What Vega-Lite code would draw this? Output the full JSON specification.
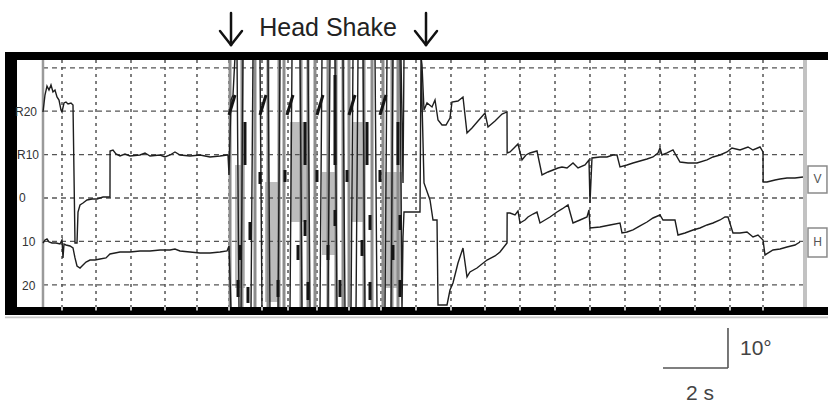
{
  "$schema": "https://vega.github.io/schema/vega-lite/v6.json",
  "width": 828,
  "height": 405,
  "autosize": {"type": "none"},
  "padding": 0,
  "background": "white",
  "config": {"view": {"stroke": null}, "font": "Liberation Sans"},
  "datasets": {
    "vgrid": [
      {"t": 1.797}, {"t": 2.783}, {"t": 3.797}, {"t": 4.783}, {"t": 5.71}, {"t": 6.638}, {"t": 7.594}, {"t": 8.348},
      {"t": 9.188}, {"t": 10.116}, {"t": 11.043}, {"t": 12.058}, {"t": 13.072}, {"t": 14.058}, {"t": 15.072},
      {"t": 16.087}, {"t": 17.101}, {"t": 18.116}, {"t": 19.13}, {"t": 20.145}, {"t": 21.159}, {"t": 22.116}
    ],
    "hgrid": [{"deg": 30}, {"deg": 20}, {"deg": 10}, {"deg": 0}, {"deg": -10}, {"deg": -20}],
    "streaks": [
      {"t": 6.667}, {"t": 7.014}, {"t": 7.391}, {"t": 7.768}, {"t": 8.087}, {"t": 8.232}, {"t": 8.725}, {"t": 8.928},
      {"t": 9.13}, {"t": 9.507}, {"t": 9.739}, {"t": 9.942}, {"t": 10.116}, {"t": 10.551}, {"t": 10.783}, {"t": 11.101},
      {"t": 11.362}, {"t": 11.536}
    ],
    "traces": [
      {"trace": "V", "t": 1.246, "deg": 19.82}, {"trace": "V", "t": 1.304, "deg": 23.73}, {"trace": "V", "t": 1.362, "deg": 25.81},
      {"trace": "V", "t": 1.42, "deg": 24.88}, {"trace": "V", "t": 1.478, "deg": 26.04}, {"trace": "V", "t": 1.536, "deg": 24.42},
      {"trace": "V", "t": 1.594, "deg": 24.88}, {"trace": "V", "t": 1.652, "deg": 23.27}, {"trace": "V", "t": 1.71, "deg": 22.58},
      {"trace": "V", "t": 1.768, "deg": 20.28}, {"trace": "V", "t": 1.797, "deg": 19.82}, {"trace": "V", "t": 1.855, "deg": 21.89},
      {"trace": "V", "t": 1.913, "deg": 22.12}, {"trace": "V", "t": 1.971, "deg": 21.66}, {"trace": "V", "t": 2.058, "deg": 21.89},
      {"trace": "V", "t": 2.116, "deg": 21.43}, {"trace": "V", "t": 2.174, "deg": -10.37}, {"trace": "V", "t": 2.232, "deg": -10.37},
      {"trace": "V", "t": 2.261, "deg": -3.23}, {"trace": "V", "t": 2.319, "deg": -1.61}, {"trace": "V", "t": 2.406, "deg": -1.15},
      {"trace": "V", "t": 2.522, "deg": -0.46}, {"trace": "V", "t": 2.667, "deg": -0.23}, {"trace": "V", "t": 2.812, "deg": -0.23},
      {"trace": "V", "t": 2.986, "deg": 0.23}, {"trace": "V", "t": 3.188, "deg": 0.23}, {"trace": "V", "t": 3.19, "deg": 10.83},
      {"trace": "V", "t": 3.275, "deg": 11.06}, {"trace": "V", "t": 3.362, "deg": 10.14}, {"trace": "V", "t": 3.478, "deg": 9.68},
      {"trace": "V", "t": 3.623, "deg": 10.14}, {"trace": "V", "t": 3.768, "deg": 9.68}, {"trace": "V", "t": 4.058, "deg": 9.91},
      {"trace": "V", "t": 4.203, "deg": 10.37}, {"trace": "V", "t": 4.348, "deg": 9.68}, {"trace": "V", "t": 4.638, "deg": 9.91},
      {"trace": "V", "t": 4.783, "deg": 9.45}, {"trace": "V", "t": 4.928, "deg": 9.91}, {"trace": "V", "t": 5.072, "deg": 10.6},
      {"trace": "V", "t": 5.217, "deg": 9.91}, {"trace": "V", "t": 5.507, "deg": 9.68}, {"trace": "V", "t": 5.797, "deg": 9.91},
      {"trace": "V", "t": 6.087, "deg": 9.45}, {"trace": "V", "t": 6.377, "deg": 9.68}, {"trace": "V", "t": 6.58, "deg": 9.91},
      {"trace": "V", "t": 6.609, "deg": 9.91}, {"trace": "V", "t": 6.638, "deg": 5.3}, {"trace": "V", "t": 6.696, "deg": 22.58},
      {"trace": "V", "t": 6.754, "deg": 23.73}, {"trace": "V", "t": 6.812, "deg": 32.6}, {"trace": "V", "t": 6.87, "deg": 32.6},
      {"trace": "V", "t": 6.928, "deg": -26.0}, {"trace": "V", "t": 7.275, "deg": -26.0}, {"trace": "V", "t": 7.333, "deg": 32.6},
      {"trace": "V", "t": 7.768, "deg": 32.6}, {"trace": "V", "t": 7.826, "deg": -26.0}, {"trace": "V", "t": 8.406, "deg": -26.0},
      {"trace": "V", "t": 8.464, "deg": 32.6}, {"trace": "V", "t": 8.928, "deg": 32.6}, {"trace": "V", "t": 8.986, "deg": -26.0},
      {"trace": "V", "t": 9.507, "deg": -26.0}, {"trace": "V", "t": 9.565, "deg": 32.6}, {"trace": "V", "t": 9.942, "deg": 32.6},
      {"trace": "V", "t": 10.0, "deg": -26.0}, {"trace": "V", "t": 10.319, "deg": -26.0}, {"trace": "V", "t": 10.377, "deg": 32.6},
      {"trace": "V", "t": 10.87, "deg": 32.6}, {"trace": "V", "t": 10.928, "deg": -26.0}, {"trace": "V", "t": 11.333, "deg": -26.0},
      {"trace": "V", "t": 11.391, "deg": 32.6}, {"trace": "V", "t": 11.623, "deg": 32.6}, {"trace": "V", "t": 11.681, "deg": 3.46},
      {"trace": "V", "t": 11.71, "deg": 32.6}, {"trace": "V", "t": 12.203, "deg": 32.6}, {"trace": "V", "t": 12.232, "deg": 30.65},
      {"trace": "V", "t": 12.29, "deg": 20.28},
      {"trace": "V", "t": 12.377, "deg": 21.89}, {"trace": "V", "t": 12.522, "deg": 20.97}, {"trace": "V", "t": 12.609, "deg": 22.58},
      {"trace": "V", "t": 12.696, "deg": 17.97}, {"trace": "V", "t": 12.812, "deg": 16.82}, {"trace": "V", "t": 12.928, "deg": 16.82},
      {"trace": "V", "t": 13.043, "deg": 18.43}, {"trace": "V", "t": 13.101, "deg": 22.12}, {"trace": "V", "t": 13.275, "deg": 22.35},
      {"trace": "V", "t": 13.42, "deg": 23.27}, {"trace": "V", "t": 13.536, "deg": 14.98}, {"trace": "V", "t": 13.681, "deg": 16.13},
      {"trace": "V", "t": 13.855, "deg": 17.74}, {"trace": "V", "t": 14.058, "deg": 19.59}, {"trace": "V", "t": 14.145, "deg": 16.36},
      {"trace": "V", "t": 14.348, "deg": 17.74}, {"trace": "V", "t": 14.551, "deg": 19.35}, {"trace": "V", "t": 14.696, "deg": 19.82},
      {"trace": "V", "t": 14.7, "deg": 10.37}, {"trace": "V", "t": 14.783, "deg": 10.6}, {"trace": "V", "t": 14.899, "deg": 11.52},
      {"trace": "V", "t": 15.014, "deg": 12.44}, {"trace": "V", "t": 15.13, "deg": 8.76}, {"trace": "V", "t": 15.246, "deg": 9.91},
      {"trace": "V", "t": 15.362, "deg": 10.37}, {"trace": "V", "t": 15.565, "deg": 10.83}, {"trace": "V", "t": 15.71, "deg": 5.3},
      {"trace": "V", "t": 15.884, "deg": 5.99}, {"trace": "V", "t": 16.029, "deg": 6.45}, {"trace": "V", "t": 16.174, "deg": 6.91},
      {"trace": "V", "t": 16.29, "deg": 7.14}, {"trace": "V", "t": 16.435, "deg": 6.91}, {"trace": "V", "t": 16.609, "deg": 8.06},
      {"trace": "V", "t": 16.754, "deg": 6.91}, {"trace": "V", "t": 16.957, "deg": 7.6}, {"trace": "V", "t": 17.072, "deg": 8.76},
      {"trace": "V", "t": 17.101, "deg": -1.15}, {"trace": "V", "t": 17.159, "deg": 9.22}, {"trace": "V", "t": 17.391, "deg": 9.45},
      {"trace": "V", "t": 17.594, "deg": 9.45}, {"trace": "V", "t": 17.768, "deg": 9.91}, {"trace": "V", "t": 17.884, "deg": 9.91},
      {"trace": "V", "t": 17.971, "deg": 7.14}, {"trace": "V", "t": 18.174, "deg": 7.6}, {"trace": "V", "t": 18.348, "deg": 8.06},
      {"trace": "V", "t": 18.551, "deg": 8.53}, {"trace": "V", "t": 18.754, "deg": 8.99}, {"trace": "V", "t": 18.928, "deg": 9.45},
      {"trace": "V", "t": 19.072, "deg": 10.37}, {"trace": "V", "t": 19.13, "deg": 11.52}, {"trace": "V", "t": 19.188, "deg": 9.91},
      {"trace": "V", "t": 19.333, "deg": 10.37}, {"trace": "V", "t": 19.507, "deg": 11.06}, {"trace": "V", "t": 19.71, "deg": 8.29},
      {"trace": "V", "t": 19.942, "deg": 8.06}, {"trace": "V", "t": 20.203, "deg": 8.06}, {"trace": "V", "t": 20.493, "deg": 8.76},
      {"trace": "V", "t": 20.667, "deg": 9.45}, {"trace": "V", "t": 20.87, "deg": 9.91}, {"trace": "V", "t": 21.072, "deg": 10.6},
      {"trace": "V", "t": 21.217, "deg": 11.52}, {"trace": "V", "t": 21.449, "deg": 11.06}, {"trace": "V", "t": 21.681, "deg": 11.75},
      {"trace": "V", "t": 21.826, "deg": 11.06}, {"trace": "V", "t": 22.029, "deg": 11.75}, {"trace": "V", "t": 22.116, "deg": 10.6},
      {"trace": "V", "t": 22.12, "deg": 3.69}, {"trace": "V", "t": 22.232, "deg": 3.69}, {"trace": "V", "t": 22.464, "deg": 4.15},
      {"trace": "V", "t": 22.609, "deg": 4.38}, {"trace": "V", "t": 22.812, "deg": 4.61}, {"trace": "V", "t": 23.043, "deg": 4.61},
      {"trace": "V", "t": 23.275, "deg": 4.84},
      {"trace": "H", "t": 1.246, "deg": -10.37}, {"trace": "H", "t": 1.304, "deg": -9.68}, {"trace": "H", "t": 1.362, "deg": -9.45},
      {"trace": "H", "t": 1.42, "deg": -10.14}, {"trace": "H", "t": 1.507, "deg": -10.37}, {"trace": "H", "t": 1.623, "deg": -10.37},
      {"trace": "H", "t": 1.739, "deg": -10.6}, {"trace": "H", "t": 1.797, "deg": -9.68}, {"trace": "H", "t": 1.826, "deg": -13.82},
      {"trace": "H", "t": 1.855, "deg": -10.6}, {"trace": "H", "t": 1.913, "deg": -10.83}, {"trace": "H", "t": 2.029, "deg": -11.06},
      {"trace": "H", "t": 2.116, "deg": -11.52}, {"trace": "H", "t": 2.174, "deg": -13.82}, {"trace": "H", "t": 2.232, "deg": -15.67},
      {"trace": "H", "t": 2.319, "deg": -16.13}, {"trace": "H", "t": 2.406, "deg": -15.44}, {"trace": "H", "t": 2.493, "deg": -14.75},
      {"trace": "H", "t": 2.609, "deg": -14.29}, {"trace": "H", "t": 2.754, "deg": -14.29}, {"trace": "H", "t": 2.899, "deg": -14.06},
      {"trace": "H", "t": 3.072, "deg": -13.82}, {"trace": "H", "t": 3.188, "deg": -12.9}, {"trace": "H", "t": 3.333, "deg": -12.67},
      {"trace": "H", "t": 3.478, "deg": -12.44}, {"trace": "H", "t": 3.768, "deg": -12.44}, {"trace": "H", "t": 4.058, "deg": -12.21},
      {"trace": "H", "t": 4.348, "deg": -12.21}, {"trace": "H", "t": 4.638, "deg": -11.98}, {"trace": "H", "t": 4.928, "deg": -11.98},
      {"trace": "H", "t": 5.072, "deg": -11.75}, {"trace": "H", "t": 5.217, "deg": -12.21}, {"trace": "H", "t": 5.507, "deg": -12.44},
      {"trace": "H", "t": 5.797, "deg": -12.67}, {"trace": "H", "t": 6.087, "deg": -12.67}, {"trace": "H", "t": 6.377, "deg": -12.44},
      {"trace": "H", "t": 6.58, "deg": -12.21}, {"trace": "H", "t": 6.638, "deg": -11.06}, {"trace": "H", "t": 6.696, "deg": -26.0},
      {"trace": "H", "t": 6.986, "deg": -26.0}, {"trace": "H", "t": 7.043, "deg": 32.6}, {"trace": "H", "t": 7.536, "deg": 32.6},
      {"trace": "H", "t": 7.594, "deg": -26.0}, {"trace": "H", "t": 8.058, "deg": -26.0}, {"trace": "H", "t": 8.116, "deg": 32.6},
      {"trace": "H", "t": 8.696, "deg": 32.6}, {"trace": "H", "t": 8.754, "deg": -26.0}, {"trace": "H", "t": 9.275, "deg": -26.0},
      {"trace": "H", "t": 9.333, "deg": 32.6}, {"trace": "H", "t": 9.71, "deg": 32.6}, {"trace": "H", "t": 9.768, "deg": -26.0},
      {"trace": "H", "t": 10.174, "deg": -26.0}, {"trace": "H", "t": 10.232, "deg": 32.6}, {"trace": "H", "t": 10.522, "deg": 32.6},
      {"trace": "H", "t": 10.58, "deg": -26.0}, {"trace": "H", "t": 11.159, "deg": -26.0}, {"trace": "H", "t": 11.217, "deg": 32.6},
      {"trace": "H", "t": 11.594, "deg": 32.6}, {"trace": "H", "t": 11.652, "deg": -26.0}, {"trace": "H", "t": 11.681, "deg": -8.99},
      {"trace": "H", "t": 11.71, "deg": -3.23}, {"trace": "H", "t": 12.174, "deg": -3.23}, {"trace": "H", "t": 12.203, "deg": 31.8},
      {"trace": "H", "t": 12.29, "deg": 3.46}, {"trace": "H", "t": 12.464, "deg": -0.46}, {"trace": "H", "t": 12.551, "deg": -5.07},
      {"trace": "H", "t": 12.667, "deg": -5.07}, {"trace": "H", "t": 12.696, "deg": -24.65}, {"trace": "H", "t": 12.957, "deg": -24.65},
      {"trace": "H", "t": 13.043, "deg": -21.2}, {"trace": "H", "t": 13.13, "deg": -19.59}, {"trace": "H", "t": 13.275, "deg": -14.98},
      {"trace": "H", "t": 13.42, "deg": -11.52}, {"trace": "H", "t": 13.536, "deg": -18.2}, {"trace": "H", "t": 13.623, "deg": -17.05},
      {"trace": "H", "t": 13.826, "deg": -16.13}, {"trace": "H", "t": 14.116, "deg": -14.29}, {"trace": "H", "t": 14.348, "deg": -13.36},
      {"trace": "H", "t": 14.493, "deg": -12.44}, {"trace": "H", "t": 14.696, "deg": -10.37}, {"trace": "H", "t": 14.7, "deg": -3.46},
      {"trace": "H", "t": 14.783, "deg": -3.46}, {"trace": "H", "t": 14.928, "deg": -3.92}, {"trace": "H", "t": 15.014, "deg": -3.0},
      {"trace": "H", "t": 15.072, "deg": -5.76}, {"trace": "H", "t": 15.217, "deg": -5.07}, {"trace": "H", "t": 15.304, "deg": -4.38},
      {"trace": "H", "t": 15.449, "deg": -3.69}, {"trace": "H", "t": 15.565, "deg": -3.23}, {"trace": "H", "t": 15.652, "deg": -5.76},
      {"trace": "H", "t": 15.797, "deg": -5.07}, {"trace": "H", "t": 15.942, "deg": -4.38}, {"trace": "H", "t": 16.145, "deg": -3.23},
      {"trace": "H", "t": 16.29, "deg": -2.53}, {"trace": "H", "t": 16.464, "deg": -1.61}, {"trace": "H", "t": 16.609, "deg": -5.76},
      {"trace": "H", "t": 16.812, "deg": -5.07}, {"trace": "H", "t": 17.014, "deg": -4.38}, {"trace": "H", "t": 17.072, "deg": -2.76},
      {"trace": "H", "t": 17.101, "deg": -6.91}, {"trace": "H", "t": 17.391, "deg": -6.68}, {"trace": "H", "t": 17.681, "deg": -6.22},
      {"trace": "H", "t": 17.971, "deg": -5.76}, {"trace": "H", "t": 18.029, "deg": -8.06}, {"trace": "H", "t": 18.174, "deg": -7.83},
      {"trace": "H", "t": 18.348, "deg": -7.37}, {"trace": "H", "t": 18.551, "deg": -6.45}, {"trace": "H", "t": 18.754, "deg": -5.53},
      {"trace": "H", "t": 18.928, "deg": -4.61}, {"trace": "H", "t": 19.13, "deg": -3.92}, {"trace": "H", "t": 19.217, "deg": -5.07},
      {"trace": "H", "t": 19.333, "deg": -5.07}, {"trace": "H", "t": 19.565, "deg": -5.07}, {"trace": "H", "t": 19.652, "deg": -8.53},
      {"trace": "H", "t": 19.855, "deg": -8.06}, {"trace": "H", "t": 20.087, "deg": -7.37}, {"trace": "H", "t": 20.29, "deg": -6.91},
      {"trace": "H", "t": 20.493, "deg": -6.22}, {"trace": "H", "t": 20.667, "deg": -5.76}, {"trace": "H", "t": 20.87, "deg": -5.07},
      {"trace": "H", "t": 21.014, "deg": -4.38}, {"trace": "H", "t": 21.101, "deg": -4.38}, {"trace": "H", "t": 21.246, "deg": -8.06},
      {"trace": "H", "t": 21.449, "deg": -8.06}, {"trace": "H", "t": 21.652, "deg": -7.83}, {"trace": "H", "t": 21.826, "deg": -8.99},
      {"trace": "H", "t": 21.971, "deg": -8.53}, {"trace": "H", "t": 22.116, "deg": -9.68}, {"trace": "H", "t": 22.174, "deg": -13.13},
      {"trace": "H", "t": 22.406, "deg": -11.98}, {"trace": "H", "t": 22.609, "deg": -11.75}, {"trace": "H", "t": 22.812, "deg": -11.29},
      {"trace": "H", "t": 23.043, "deg": -10.83}, {"trace": "H", "t": 23.188, "deg": -10.14}
    ],
    "shade": [
      {"t": 6.812, "t2": 7.101, "deg": 7.6, "deg2": -20.74},
      {"t": 7.681, "t2": 8.058, "deg": 3.69, "deg2": -23.96},
      {"t": 8.406, "t2": 8.899, "deg": 17.51, "deg2": -5.53},
      {"t": 9.333, "t2": 9.768, "deg": 5.99, "deg2": -13.13},
      {"t": 10.203, "t2": 10.58, "deg": 17.51, "deg2": -5.53},
      {"t": 11.159, "t2": 11.652, "deg": 5.99, "deg2": -20.74}
    ],
    "blobs": [
      {"t": 7.101, "deg": 17.51, "t2": 7.101, "deg2": 7.6},
      {"t": 8.841, "deg": 17.51, "t2": 8.841, "deg2": 7.6},
      {"t": 9.71, "deg": 28.34, "t2": 9.71, "deg2": 7.6},
      {"t": 10.638, "deg": 17.51, "t2": 10.638, "deg2": 7.6},
      {"t": 11.536, "deg": 17.51, "t2": 11.536, "deg2": 7.6},
      {"t": 7.536, "deg": 5.99, "t2": 7.536, "deg2": 3.23},
      {"t": 8.261, "deg": 6.45, "t2": 8.261, "deg2": 3.69},
      {"t": 9.188, "deg": 6.45, "t2": 9.188, "deg2": 3.69},
      {"t": 10.058, "deg": 6.45, "t2": 10.058, "deg2": 3.69},
      {"t": 11.014, "deg": 6.45, "t2": 11.014, "deg2": 3.69},
      {"t": 7.246, "deg": -5.53, "t2": 7.246, "deg2": -9.68},
      {"t": 6.957, "deg": -10.83, "t2": 6.957, "deg2": -14.29},
      {"t": 8.841, "deg": -5.07, "t2": 8.841, "deg2": -8.76},
      {"t": 8.638, "deg": -10.83, "t2": 8.638, "deg2": -14.29},
      {"t": 9.71, "deg": -2.76, "t2": 9.71, "deg2": -6.45},
      {"t": 9.507, "deg": -10.83, "t2": 9.507, "deg2": -14.29},
      {"t": 10.493, "deg": -9.68, "t2": 10.493, "deg2": -13.36},
      {"t": 10.725, "deg": -3.92, "t2": 10.725, "deg2": -7.37},
      {"t": 11.594, "deg": -3.92, "t2": 11.594, "deg2": -7.37},
      {"t": 11.391, "deg": -10.83, "t2": 11.391, "deg2": -14.29},
      {"t": 6.899, "deg": -18.89, "t2": 6.899, "deg2": -22.81},
      {"t": 7.188, "deg": -20.51, "t2": 7.188, "deg2": -24.19},
      {"t": 8.058, "deg": -18.89, "t2": 8.058, "deg2": -22.81},
      {"t": 8.928, "deg": -19.35, "t2": 8.928, "deg2": -23.5},
      {"t": 9.855, "deg": -18.89, "t2": 9.855, "deg2": -22.81},
      {"t": 10.725, "deg": -19.35, "t2": 10.725, "deg2": -23.5},
      {"t": 11.594, "deg": -18.89, "t2": 11.594, "deg2": -22.81},
      {"t": 6.638, "deg": 19.12, "t2": 6.812, "deg2": 23.73},
      {"t": 7.536, "deg": 19.12, "t2": 7.71, "deg2": 23.73},
      {"t": 8.319, "deg": 19.12, "t2": 8.493, "deg2": 23.73},
      {"t": 9.188, "deg": 19.12, "t2": 9.362, "deg2": 23.73},
      {"t": 10.116, "deg": 19.12, "t2": 10.29, "deg2": 23.73},
      {"t": 11.014, "deg": 19.12, "t2": 11.188, "deg2": 23.73}
    ],
    "arrows": [
      {"t": 6.696, "deg": 42.63, "t2": 6.696, "deg2": 35.25},
      {"t": 6.377, "deg": 38.48, "t2": 6.696, "deg2": 35.25},
      {"t": 7.014, "deg": 38.48, "t2": 6.696, "deg2": 35.25},
      {"t": 12.348, "deg": 42.63, "t2": 12.348, "deg2": 35.25},
      {"t": 12.029, "deg": 38.48, "t2": 12.348, "deg2": 35.25},
      {"t": 12.667, "deg": 38.48, "t2": 12.348, "deg2": 35.25}
    ],
    "scalebar": [
      {"t": 19.217, "deg": -39.17, "t2": 21.101, "deg2": -39.17},
      {"t": 21.101, "deg": -29.95, "t2": 21.101, "deg2": -39.17}
    ],
    "boxes": [
      {"label": "V", "t": 23.42, "t2": 23.97, "deg": 7.37, "deg2": 1.15, "tc": 23.695, "dc": 4.26},
      {"label": "H", "t": 23.42, "t2": 23.97, "deg": -6.91, "deg2": -13.59, "tc": 23.695, "dc": -10.25}
    ],
    "ylabels": [
      {"label": "R20", "t": 0.435, "deg": 19.82},
      {"label": "R10", "t": 0.493, "deg": 9.91},
      {"label": "0", "t": 0.551, "deg": 0},
      {"label": "10", "t": 0.638, "deg": -10.14},
      {"label": "20", "t": 0.638, "deg": -20.2}
    ]
  },
  "layer": [
    {
      "data": {"name": "shade"},
      "mark": {"type": "rect", "color": "#bcbcbc"},
      "encoding": {
        "x": {"field": "t", "type": "quantitative", "scale": {"domain": [0, 24], "nice": false, "zero": false}, "axis": null},
        "x2": {"field": "t2"},
        "y": {"field": "deg", "type": "quantitative", "scale": {"domain": [-47.7, 45.62], "nice": false, "zero": false}, "axis": null},
        "y2": {"field": "deg2"}
      }
    },
    {
      "data": {"name": "hgrid"},
      "mark": {"type": "rule", "color": "#555555", "strokeWidth": 1.3, "strokeDash": [5, 4]},
      "encoding": {
        "x": {"datum": 1.246, "type": "quantitative", "scale": {"domain": [0, 24], "nice": false, "zero": false}, "axis": null},
        "x2": {"datum": 23.333},
        "y": {"field": "deg", "type": "quantitative", "scale": {"domain": [-47.7, 45.62], "nice": false, "zero": false}, "axis": null}
      }
    },
    {
      "data": {"name": "vgrid"},
      "mark": {"type": "rule", "color": "#555555", "strokeWidth": 1.5, "strokeDash": [3, 4]},
      "encoding": {
        "x": {"field": "t", "type": "quantitative", "scale": {"domain": [0, 24], "nice": false, "zero": false}, "axis": null},
        "y": {"datum": 31.8, "type": "quantitative", "scale": {"domain": [-47.7, 45.62], "nice": false, "zero": false}, "axis": null},
        "y2": {"datum": -25.12}
      }
    },
    {
      "data": {"name": "streaks"},
      "mark": {"type": "rule", "color": "#8c8c8c", "strokeWidth": 3},
      "encoding": {
        "x": {"field": "t", "type": "quantitative", "scale": {"domain": [0, 24], "nice": false, "zero": false}, "axis": null},
        "y": {"datum": 31.8, "type": "quantitative", "scale": {"domain": [-47.7, 45.62], "nice": false, "zero": false}, "axis": null},
        "y2": {"datum": -25.12}
      }
    },
    {
      "data": {"values": [{"t": 1.246}]},
      "mark": {"type": "rule", "color": "#9a9a9a", "strokeWidth": 2.5},
      "encoding": {
        "x": {"field": "t", "type": "quantitative", "scale": {"domain": [0, 24], "nice": false, "zero": false}, "axis": null},
        "y": {"datum": 31.8, "type": "quantitative", "scale": {"domain": [-47.7, 45.62], "nice": false, "zero": false}, "axis": null},
        "y2": {"datum": -25.12}
      }
    },
    {
      "data": {"values": [{"t": 23.333}]},
      "mark": {"type": "rule", "color": "#c2c2c2", "strokeWidth": 4},
      "encoding": {
        "x": {"field": "t", "type": "quantitative", "scale": {"domain": [0, 24], "nice": false, "zero": false}, "axis": null},
        "y": {"datum": 31.8, "type": "quantitative", "scale": {"domain": [-47.7, 45.62], "nice": false, "zero": false}, "axis": null},
        "y2": {"datum": -25.12}
      }
    },
    {
      "data": {"name": "traces"},
      "mark": {"type": "line", "color": "#1e1e1e", "strokeWidth": 1.4},
      "encoding": {
        "x": {"field": "t", "type": "quantitative", "scale": {"domain": [0, 24], "nice": false, "zero": false}, "axis": null},
        "y": {"field": "deg", "type": "quantitative", "scale": {"domain": [-47.7, 45.62], "nice": false, "zero": false}, "axis": null},
        "detail": {"field": "trace", "type": "nominal"},
        "order": {"value": null}
      }
    },
    {
      "data": {"name": "blobs"},
      "mark": {"type": "rule", "color": "#151515", "strokeWidth": 3},
      "encoding": {
        "x": {"field": "t", "type": "quantitative", "scale": {"domain": [0, 24], "nice": false, "zero": false}, "axis": null},
        "x2": {"field": "t2"},
        "y": {"field": "deg", "type": "quantitative", "scale": {"domain": [-47.7, 45.62], "nice": false, "zero": false}, "axis": null},
        "y2": {"field": "deg2"}
      }
    },
    {
      "data": {"values": [
        {"part": "top", "t": 0.145, "t2": 24, "deg": 33.64, "deg2": 31.8},
        {"part": "bottom", "t": 0.145, "t2": 24, "deg": -25.12, "deg2": -26.96},
        {"part": "left", "t": 0.145, "t2": 0.493, "deg": 33.64, "deg2": -26.96}
      ]},
      "mark": {"type": "rect", "color": "#000000"},
      "encoding": {
        "x": {"field": "t", "type": "quantitative", "scale": {"domain": [0, 24], "nice": false, "zero": false}, "axis": null},
        "x2": {"field": "t2"},
        "y": {"field": "deg", "type": "quantitative", "scale": {"domain": [-47.7, 45.62], "nice": false, "zero": false}, "axis": null},
        "y2": {"field": "deg2"}
      }
    },
    {
      "data": {"values": [{"t": 0.145, "t2": 24, "deg": -27.3, "deg2": -27.7}]},
      "mark": {"type": "rect", "color": "#c8c8c8"},
      "encoding": {
        "x": {"field": "t", "type": "quantitative", "scale": {"domain": [0, 24], "nice": false, "zero": false}, "axis": null},
        "x2": {"field": "t2"},
        "y": {"field": "deg", "type": "quantitative", "scale": {"domain": [-47.7, 45.62], "nice": false, "zero": false}, "axis": null},
        "y2": {"field": "deg2"}
      }
    },
    {
      "data": {"name": "vgrid"},
      "mark": {"type": "rule", "color": "#ffffff", "strokeWidth": 1.5},
      "encoding": {
        "x": {"field": "t", "type": "quantitative", "scale": {"domain": [0, 24], "nice": false, "zero": false}, "axis": null},
        "y": {"datum": -25.12, "type": "quantitative", "scale": {"domain": [-47.7, 45.62], "nice": false, "zero": false}, "axis": null},
        "y2": {"datum": -25.9}
      }
    },
    {
      "data": {"name": "boxes"},
      "mark": {"type": "rect", "fill": "#ffffff", "stroke": "#8a8a8a", "strokeWidth": 1.5},
      "encoding": {
        "x": {"field": "t", "type": "quantitative", "scale": {"domain": [0, 24], "nice": false, "zero": false}, "axis": null},
        "x2": {"field": "t2"},
        "y": {"field": "deg", "type": "quantitative", "scale": {"domain": [-47.7, 45.62], "nice": false, "zero": false}, "axis": null},
        "y2": {"field": "deg2"}
      }
    },
    {
      "data": {"name": "boxes"},
      "mark": {"type": "text", "fontSize": 12, "color": "#555555", "align": "center", "baseline": "middle"},
      "encoding": {
        "x": {"field": "tc", "type": "quantitative", "scale": {"domain": [0, 24], "nice": false, "zero": false}, "axis": null},
        "y": {"field": "dc", "type": "quantitative", "scale": {"domain": [-47.7, 45.62], "nice": false, "zero": false}, "axis": null},
        "text": {"field": "label"}
      }
    },
    {
      "data": {"name": "ylabels"},
      "mark": {"type": "text", "fontSize": 12, "color": "#333333", "align": "left", "baseline": "middle"},
      "encoding": {
        "x": {"field": "t", "type": "quantitative", "scale": {"domain": [0, 24], "nice": false, "zero": false}, "axis": null},
        "y": {"field": "deg", "type": "quantitative", "scale": {"domain": [-47.7, 45.62], "nice": false, "zero": false}, "axis": null},
        "text": {"field": "label"}
      }
    },
    {
      "data": {"name": "arrows"},
      "mark": {"type": "rule", "color": "#111111", "strokeWidth": 2.5, "strokeCap": "round"},
      "encoding": {
        "x": {"field": "t", "type": "quantitative", "scale": {"domain": [0, 24], "nice": false, "zero": false}, "axis": null},
        "x2": {"field": "t2"},
        "y": {"field": "deg", "type": "quantitative", "scale": {"domain": [-47.7, 45.62], "nice": false, "zero": false}, "axis": null},
        "y2": {"field": "deg2"}
      }
    },
    {
      "data": {"values": [{"label": "Head Shake", "t": 9.507, "deg": 37.33}]},
      "mark": {"type": "text", "fontSize": 25, "color": "#222222", "align": "center", "baseline": "alphabetic"},
      "encoding": {
        "x": {"field": "t", "type": "quantitative", "scale": {"domain": [0, 24], "nice": false, "zero": false}, "axis": null},
        "y": {"field": "deg", "type": "quantitative", "scale": {"domain": [-47.7, 45.62], "nice": false, "zero": false}, "axis": null},
        "text": {"field": "label"}
      }
    },
    {
      "data": {"name": "scalebar"},
      "mark": {"type": "rule", "color": "#555555", "strokeWidth": 1.6},
      "encoding": {
        "x": {"field": "t", "type": "quantitative", "scale": {"domain": [0, 24], "nice": false, "zero": false}, "axis": null},
        "x2": {"field": "t2"},
        "y": {"field": "deg", "type": "quantitative", "scale": {"domain": [-47.7, 45.62], "nice": false, "zero": false}, "axis": null},
        "y2": {"field": "deg2"}
      }
    },
    {
      "data": {"values": [{"label": "10°", "t": 21.449, "deg": -36.18}]},
      "mark": {"type": "text", "fontSize": 21, "color": "#444444", "align": "left", "baseline": "alphabetic"},
      "encoding": {
        "x": {"field": "t", "type": "quantitative", "scale": {"domain": [0, 24], "nice": false, "zero": false}, "axis": null},
        "y": {"field": "deg", "type": "quantitative", "scale": {"domain": [-47.7, 45.62], "nice": false, "zero": false}, "axis": null},
        "text": {"field": "label"}
      }
    },
    {
      "data": {"values": [{"label": "2 s", "t": 20.29, "deg": -46.54}]},
      "mark": {"type": "text", "fontSize": 21, "color": "#444444", "align": "center", "baseline": "alphabetic"},
      "encoding": {
        "x": {"field": "t", "type": "quantitative", "scale": {"domain": [0, 24], "nice": false, "zero": false}, "axis": null},
        "y": {"field": "deg", "type": "quantitative", "scale": {"domain": [-47.7, 45.62], "nice": false, "zero": false}, "axis": null},
        "text": {"field": "label"}
      }
    }
  ]
}
